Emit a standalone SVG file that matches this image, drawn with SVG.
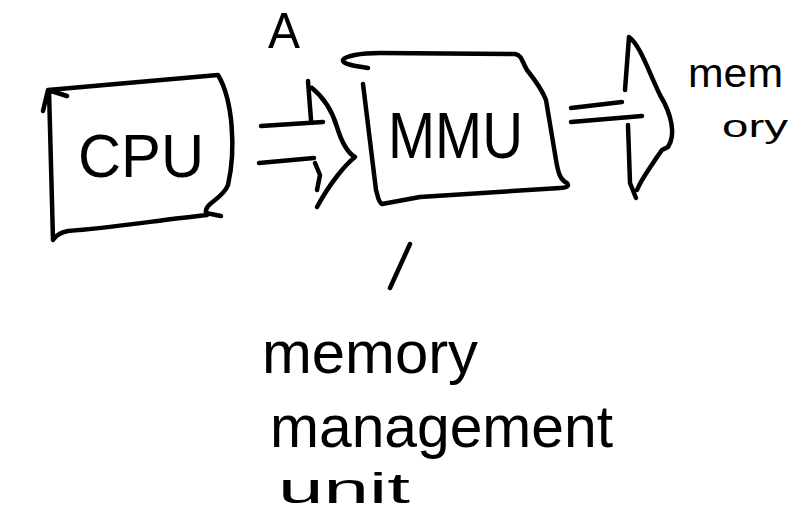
<svg xmlns="http://www.w3.org/2000/svg" width="809" height="517" viewBox="0 0 809 517">
<style>
.ink{fill:none;stroke:#000;stroke-width:4.5;stroke-linecap:round;stroke-linejoin:round}
.t{font-family:"Liberation Sans",Arial,sans-serif;fill:#000}
</style>
<rect width="809" height="517" fill="#fff"/>
<g id="cpu">
<path class="ink" d="M43,111 L48,90 L67,96 M48,90 L218,75 C233,100 236,150 228,185 C222,200 204,203 206,213 L221,216 M207,215 C160,220 110,228 68,231 Q57,233 53,240 L49,90"/>
<text class="t" x="78" y="177" font-size="62" textLength="126" lengthAdjust="spacingAndGlyphs">CPU</text>
</g>
<g id="mmu">
<path class="ink" d="M368,68 C355,66 342,64 343,60 C345,56 360,53 380,53 L515,54 C522,55 522,62 527,70 C535,80 543,92 546,100 L556,160 C558,172 560,180 567,183 C570,186 566,188 560,188 L420,197 L382,204 C378,202 378,196 376,190 L363,84"/>
<text class="t" x="388" y="158" font-size="64" textLength="135" lengthAdjust="spacingAndGlyphs">MMU</text>
</g>
<g id="memory">
<text class="t" x="688" y="87" font-size="40" textLength="95" lengthAdjust="spacingAndGlyphs">mem</text>
<text class="t" x="722" y="137" font-size="32" textLength="66" lengthAdjust="spacingAndGlyphs">ory</text>
</g>
<g id="label-a">
<text class="t" x="268" y="48" font-size="50" textLength="32" lengthAdjust="spacingAndGlyphs">A</text>
</g>
<g id="mmu-note">
<path class="ink" d="M410,244 L390,288"/>
<text class="t" x="262" y="373" font-size="60" textLength="216" lengthAdjust="spacingAndGlyphs">memory</text>
<text class="t" x="270" y="447" font-size="59" textLength="343" lengthAdjust="spacingAndGlyphs">management</text>
<text class="t" x="278" y="503" font-size="42" textLength="132" lengthAdjust="spacingAndGlyphs">unit</text>
</g>
<g id="connectors">
<path class="ink" d="M261,126 L323,122 M259,163 L314,158 M308,81 L311,120 M312,88 C323,97 332,110 337,127 C341,140 346,152 355,157 C345,165 330,183 317,207 M315,163 L320,175 L317,190"/>
<path class="ink" d="M571,108 L622,102 M571,122 L642,116 M625,90 L629,37 C640,45 648,70 660,95 C672,115 676,135 668,147 L662,150 L657,157 C650,168 642,178 637,190 M628,125 L630,183 L636,198"/>
</g>
</svg>
